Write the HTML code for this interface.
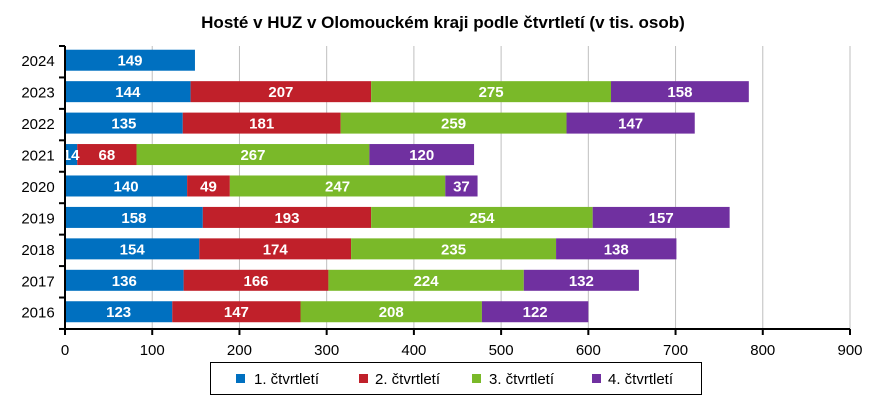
<!DOCTYPE html>
<html><head><meta charset="utf-8"><style>
body{margin:0;background:#fff}
svg{display:block;font-family:"Liberation Sans",sans-serif}
</style></head><body>
<svg id="s" width="886" height="402" xmlns="http://www.w3.org/2000/svg"></svg>
<script>
(function(){
var s=document.getElementById('s');
var h='';
var x0=65,sc=785/900,pt=46,band=31.44,bh=21;
var cols=['#0070C0','#C0202A','#7AB929','#7030A0'];
h+='<rect width="886" height="402" fill="#fff"/>';
h+='<text x="443" y="28" text-anchor="middle" font-size="17" font-weight="bold">Hosté v HUZ  v Olomouckém kraji podle čtvrtletí (v tis. osob)</text>';
for(var v=100;v<=900;v+=100){var x=x0+v*sc;h+='<line x1="'+x+'" y1="'+pt+'" x2="'+x+'" y2="329" stroke="#BFBFBF" stroke-width="1"/>';}
var data=[['2024',[149]],['2023',[144,207,275,158]],['2022',[135,181,259,147]],['2021',[14,68,267,120]],['2020',[140,49,247,37]],['2019',[158,193,254,157]],['2018',[154,174,235,138]],['2017',[136,166,224,132]],['2016',[123,147,208,122]]];
data.forEach(function(d,i){
 var cy=pt+band*(i+0.5)-1.5;var acc=0;
 h+='<text x="38" y="'+(cy+6)+'" text-anchor="middle" font-size="15">'+d[0]+'</text>';
 d[1].forEach(function(v,j){
  var x=x0+acc*sc,w=v*sc;
  h+='<rect x="'+x+'" y="'+(cy-bh/2)+'" width="'+w+'" height="'+bh+'" fill="'+cols[j]+'"/>';
  acc+=v;
 });
 acc=0;
 d[1].forEach(function(v,j){
  var x=x0+(acc+v/2)*sc;
  h+='<text x="'+x+'" y="'+(cy+5.5)+'" text-anchor="middle" font-size="15" font-weight="bold" fill="#fff">'+v+'</text>';
  acc+=v;
 });
});
h+='<line x1="'+x0+'" y1="'+pt+'" x2="'+x0+'" y2="329.5" stroke="#000" stroke-width="2"/>';
h+='<line x1="'+(x0-1)+'" y1="329" x2="850" y2="329" stroke="#000" stroke-width="2"/>';
for(var i=0;i<=9;i++){var y=pt+band*i;h+='<line x1="59" y1="'+y+'" x2="'+x0+'" y2="'+y+'" stroke="#000" stroke-width="2"/>';}
for(var v=0;v<=900;v+=100){var x=x0+v*sc;h+='<line x1="'+x+'" y1="329" x2="'+x+'" y2="335" stroke="#000" stroke-width="2"/>';
 h+='<text x="'+x+'" y="355" text-anchor="middle" font-size="15">'+v+'</text>';}
h+='<rect x="210.5" y="362.5" width="491" height="32" fill="#fff" stroke="#000" stroke-width="1"/>';
var lg=[[236,254,'1. čtvrtletí'],[359,375,'2. čtvrtletí'],[472,489,'3. čtvrtletí'],[592,608,'4. čtvrtletí']];
lg.forEach(function(l,j){h+='<rect x="'+l[0]+'" y="374" width="9" height="9" fill="'+cols[j]+'"/>';
 h+='<text x="'+l[1]+'" y="384" font-size="15">'+l[2]+'</text>';});
s.innerHTML=h;
})();
</script>
</body></html>
